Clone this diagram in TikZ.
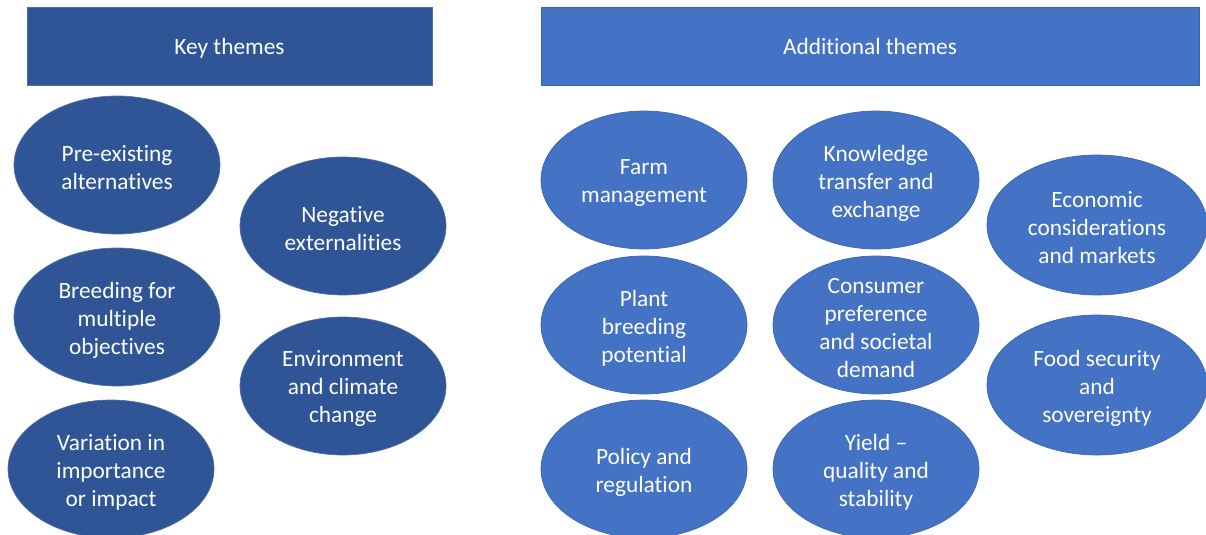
\documentclass[tikz,border=0pt]{standalone}
\usepackage{fontspec}
\setmainfont{Carlito}[Ligatures=NoCommon]
\usetikzlibrary{shapes.geometric}
\definecolor{keyblue}{HTML}{2F5597}
\definecolor{addblue}{HTML}{4472C4}
\definecolor{keyedge}{HTML}{4A6FA8}
\definecolor{addedge}{HTML}{3A64B0}
\begin{document}
\begin{tikzpicture}[x=0.75pt,y=-0.75pt,
  txt/.style={text=white,font=\fontsize{17.5}{21}\selectfont,align=center,inner sep=0pt},
  header/.style={txt,rectangle,text depth=0pt,minimum height=58.5pt,line width=0.5pt},
  keyhead/.style={header,fill=keyblue,draw=keyedge},
  addhead/.style={header,fill=addblue,draw=addedge},
  theme/.style={ellipse,inner sep=0pt,minimum width=154.5pt,minimum height=103.5pt,line width=0.5pt},
  keytheme/.style={theme,fill=keyblue,draw=keyedge},
  addtheme/.style={theme,fill=addblue,draw=addedge},
  widetheme/.style={addtheme,minimum width=165pt,minimum height=105pt},
  tag/.style={txt,yshift=-2.2pt}]
\useasboundingbox (0,0) rectangle (1206,535);
\fill[white] (0,0) rectangle (1206,535);

% column headers
\node[keyhead,minimum width=303.75pt] (keyhdr) at (229.5,46) {Key themes};
\node[addhead,minimum width=493.5pt] (addhdr) at (870,46) {Additional themes};

% key themes: shapes
\node[keytheme] (preexist) at (117,165) {};
\node[keytheme] (negext) at (343,226) {};
\node[keytheme] (breeding) at (117,317) {};
\node[keytheme] (environ) at (343,386) {};
\node[keytheme] (variation) at (111,469) {};

% additional themes: shapes
\node[addtheme] (farm) at (644,180) {};
\node[addtheme] (knowledge) at (876,180) {};
\node[widetheme] (economic) at (1097,225) {};
\node[addtheme] (plant) at (644,325) {};
\node[addtheme] (consumer) at (876,325) {};
\node[widetheme] (food) at (1097,385) {};
\node[addtheme] (policy) at (644,469) {};
\node[addtheme] (yield) at (876,469) {};

% theme labels
\node[tag] (preexist-t) at (preexist) {Pre-existing\\alternatives};
\node[tag] (negext-t) at (negext) {Negative\\externalities};
\node[tag] (breeding-t) at (breeding) {Breeding for\\multiple\\objectives};
\node[tag] (environ-t) at (environ) {Environment\\and climate\\change};
\node[tag] (variation-t) at (variation) {Variation in\\importance\\or impact};
\node[tag] (farm-t) at (farm) {Farm\\management};
\node[tag] (knowledge-t) at (knowledge) {Knowledge\\transfer and\\exchange};
\node[tag] (economic-t) at (economic) {Economic\\considerations\\and markets};
\node[tag] (plant-t) at (plant) {Plant\\breeding\\potential};
\node[tag] (consumer-t) at (consumer) {Consumer\\preference\\and societal\\demand};
\node[tag] (food-t) at (food) {Food security\\and\\sovereignty};
\node[tag] (policy-t) at (policy) {Policy and\\regulation};
\node[tag] (yield-t) at (yield) {Yield --\\quality and\\stability};
\end{tikzpicture}
\end{document}
